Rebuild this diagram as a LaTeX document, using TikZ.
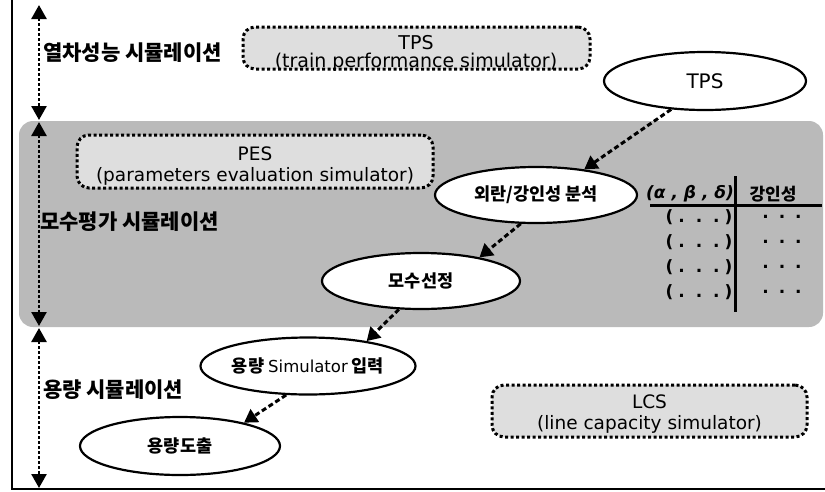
\documentclass[tikz,border=0pt]{standalone}
\usepackage{fontspec}
\setmainfont{DejaVu Sans}
\newfontfamily\kr{Noto Sans CJK KR}
\usetikzlibrary{arrows.meta,shapes.geometric}
\definecolor{regiongray}{gray}{0.73}
\definecolor{boxgray}{gray}{0.87}
\tikzset{
  stage/.style={draw, line width=2.2pt, fill=white, ellipse, inner sep=0pt,
    minimum width=200pt, minimum height=56pt,
    font=\kr\bfseries\fontsize{17.5}{20}\selectfont},
  simbox/.style={draw, line width=3pt, dash pattern=on 3pt off 2.5pt,
    rounded corners=12pt, fill=boxgray, inner sep=0pt},
  simtext/.style={align=center, inner sep=0pt, font=\fontsize{18.5}{21}\selectfont},
  flow/.style={line width=3pt, dash pattern=on 5pt off 3pt,
    -{Triangle[width=15pt,length=13pt]}},
  spanarrow/.style={line width=2.6pt, dash pattern=on 3pt off 2pt,
    {Triangle[width=15pt,length=14pt]}-{Triangle[width=15pt,length=14pt]}},
  sidelabel/.style={anchor=west, inner sep=0pt, font=\kr\bfseries\fontsize{21}{24}\selectfont},
  tabtext/.style={inner sep=0pt, font=\bfseries\fontsize{17}{20}\selectfont},
  region/.style={fill=regiongray, rounded corners=14pt},
}
\begin{document}
\begin{tikzpicture}[x=1pt,y=-1pt]
\useasboundingbox (0,0) rectangle (825,491);

% frame
\coordinate (ftop) at (12,0);
\coordinate (fcorner) at (12,488.5);
\coordinate (fright) at (825,488.5);
\draw[line width=2pt] (ftop) -- (fcorner) -- (fright);

% shaded PES region
\fill[region] (19,121) rectangle (823,327);

% simulator boxes
\node[simbox, minimum width=347pt, minimum height=42pt] (tpsbox) at (416.5,48) {};
\node[simtext, font=\fontsize{19}{18}\selectfont] (tpstext) at (416,53) {TPS\\(train performance simulator)};
\node[simbox, minimum width=356pt, minimum height=53pt] (pesbox) at (255,161.5) {};
\node[simtext] (pestext) at (255,166) {PES\\(parameters evaluation simulator)};
\node[simbox, minimum width=315pt, minimum height=52pt] (lcsbox) at (649.5,411) {};
\node[simtext] (lcstext) at (649.5,414) {LCS\\(line capacity simulator)};

% side spans
\coordinate (a1t) at (39,5);
\coordinate (a1b) at (39,120);
\coordinate (a2t) at (39,122);
\coordinate (a2b) at (39,326);
\coordinate (a3t) at (39,328);
\coordinate (a3b) at (39,488);
\draw[spanarrow] (a1t) -- (a1b);
\draw[spanarrow] (a2t) -- (a2b);
\draw[spanarrow] (a3t) -- (a3b);
\node[sidelabel] (lab1) at (43,53) {열차성능 시뮬레이션};
\node[sidelabel] (lab2) at (40,222) {모수평가 시뮬레이션};
\node[sidelabel] (lab3) at (43,390) {용량 시뮬레이션};

% process ellipses
\node[stage, minimum width=202pt, minimum height=58pt, font=\fontsize{20}{22}\selectfont] (tps) at (705,81) {TPS};
\node[stage, minimum width=202pt] (ext) at (536,195) {외란/강인성 분석};
\node[stage, minimum width=198pt] (param) at (421,281) {모수선정};
\node[stage, minimum height=57pt] (input) at (308,366) {용량 {\normalfont\fontsize{16.5}{18}\selectfont Simulator} 입력};
\node[stage, minimum height=58pt] (capa) at (180,446) {용량도출};

% flow connectors
\draw[flow] (tps.220.7) -- (ext.28.4);
\draw[flow] (ext.242.6) -- (param.22);
\draw[flow] (param.232.5) -- (input.23.6);
\draw[flow] (input.233.9) -- (capa.20.1);

% table
\node[tabtext, font=\bfseries\itshape\fontsize{17}{20}\selectfont] (h1) at (690,194) {(α , β , δ)};
\node[tabtext, font=\kr\bfseries\fontsize{17}{20}\selectfont] (h2) at (773,194) {강인성};
\draw[line width=3pt] (650,205) -- (822,205);
\draw[line width=3pt] (735,176) -- (735,312);
\foreach \y [count=\i] in {217,242,267,292} {
  \node[tabtext] (l\i) at (699,\y) {(\hspace{5pt}.\hspace{11pt}.\hspace{11pt}.\hspace{5pt})};
  \node[tabtext] (r\i) at (782,\y) {.\hspace{10pt}.\hspace{10pt}.};
}
\end{tikzpicture}
\end{document}
